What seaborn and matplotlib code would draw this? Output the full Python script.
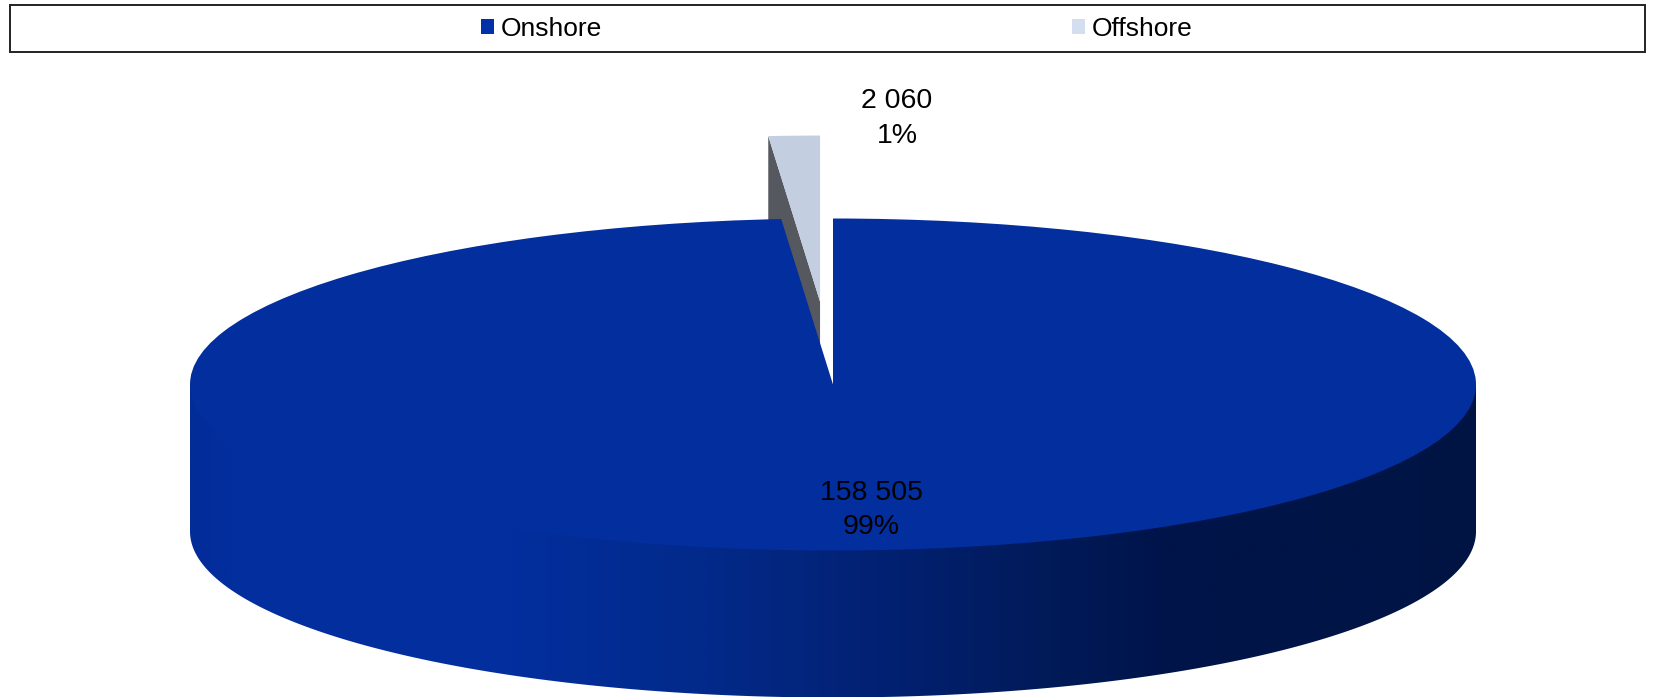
import numpy as np
import matplotlib
matplotlib.use("Agg")
import matplotlib.pyplot as plt
from matplotlib.colors import LinearSegmentedColormap
from matplotlib.patches import Patch, Polygon, Rectangle
import seaborn as sns

# Installed capacity split
categories = ["Onshore", "Offshore"]
values = [158505, 2060]
explode = [0, 0.5]

top_colors = ["#022E9E", "#C3CEE0"]
legend_colors = ["#0230A8", "#D3DEEE"]
wall_color = "#55585F"
rim_stops = [(0.0, "#022C98"), (0.03, "#022E9E"), (0.24, "#022F9F"), (0.40, "#022A8A"),
             (0.55, "#022070"), (0.67, "#011A58"), (0.76, "#00144A"), (1.0, "#001444")]

W, H = 1655, 697
CX, CY, RX, RY = 833, 384.5, 643, 166
DEPTH = 147 / RY

sns.set_theme(style="white")
plt.rcParams["font.family"] = ["Liberation Sans", "DejaVu Sans"]

fig = plt.figure(figsize=(W / 100, H / 100), dpi=100, facecolor="white")
ax = fig.add_axes([0, 0, 1, 1])

wedges, _ = ax.pie(values, colors=top_colors, explode=explode, startangle=90,
                   counterclock=False, radius=1, wedgeprops={"linewidth": 0, "zorder": 5})
ax.set_aspect("auto")

# Cylinder wall of the large slice, shaded left to right
t = np.linspace(np.pi, 2 * np.pi, 400)
rim = np.column_stack([np.cos(t), np.sin(t) - DEPTH])
rim = np.vstack([rim, [1, 0], [-1, 0]])
wall = Polygon(rim, closed=True, transform=ax.transData, facecolor="none", edgecolor="none")
ax.add_patch(wall)
cmap = LinearSegmentedColormap.from_list("rim", rim_stops, N=256)
img = ax.imshow(np.linspace(0, 1, 512)[None, :], cmap=cmap, aspect="auto",
                extent=(-1, 1, -DEPTH - 1, 0), zorder=2)
img.set_clip_path(wall)

# Cut face of the pulled-out slice, partly hidden behind the large slice
small = wedges[1]
ang = np.deg2rad(small.theta2)
cx0, cy0 = small.center
edge = np.array([cx0 + small.r * np.cos(ang), cy0 + small.r * np.sin(ang)])
apex = np.array([cx0, cy0])
ax.add_patch(Polygon([edge, apex, apex - [0, DEPTH], edge - [0, DEPTH]], closed=True,
                     facecolor=wall_color, edgecolor="none", zorder=3))

ax.set_xlim((0 - CX) / RX, (W - CX) / RX)
ax.set_ylim((CY - H) / RY, CY / RY)
ax.axis("off")


def px(x, y):
    return x / W, 1 - y / H


total = sum(values)
label_pos = [((872, 493), (871, 527)), ((897, 101), (897, 136))]
for v, (p1, p2) in zip(values, label_pos):
    fig.text(*px(*p1), f"{v:,}".replace(",", " "), ha="center", va="center",
             fontsize=20.5, color="black", zorder=10)
    fig.text(*px(*p2), f"{round(100 * v / total)}%", ha="center", va="center",
             fontsize=20.5, color="black", zorder=10)

# Legend strip across the top
fig.add_artist(Rectangle(px(10, 52), 1635 / W, 47 / H, transform=fig.transFigure,
                         facecolor="white", edgecolor="#222222", linewidth=1.4))
handles = [Patch(facecolor=c, edgecolor="none", label=l) for c, l in zip(legend_colors, categories)]
fig.legend(handles=handles, ncol=2, frameon=False, loc="center left",
           bbox_to_anchor=px(481, 29), borderaxespad=0, borderpad=0,
           fontsize=19, handlelength=0.5, handleheight=0.5, handletextpad=0.25,
           columnspacing=17.8, labelcolor="black")

fig.savefig("out.png", dpi=100, facecolor="white")
